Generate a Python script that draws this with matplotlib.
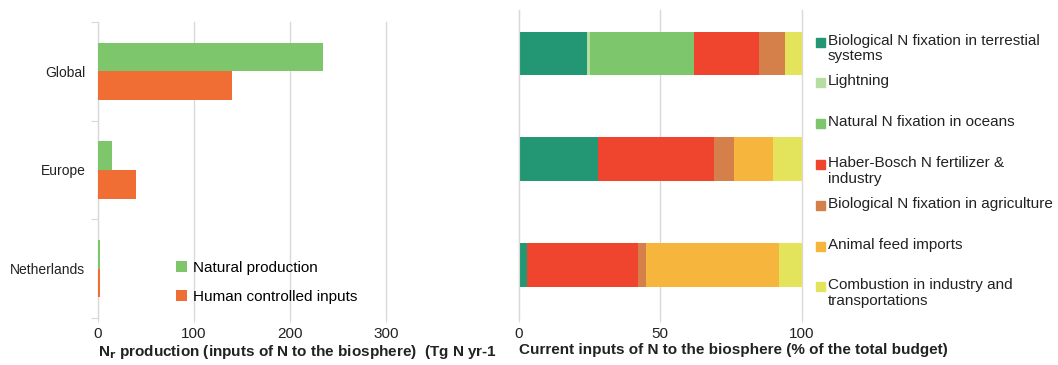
import matplotlib.pyplot as plt
from matplotlib.patches import Rectangle
import numpy as np

plt.rcParams['font.family'] = ['Liberation Sans', 'DejaVu Sans']

regions = ['Global', 'Europe', 'Netherlands']
natural_production = [234, 15, 2]
human_inputs = [140, 40, 2]

sources = ['Biological N fixation in terrestial\nsystems', 'Lightning', 'Natural N fixation in oceans',
           'Haber-Bosch N fertilizer &\nindustry', 'Biological N fixation in agriculture',
           'Animal feed imports', 'Combustion in industry and\ntransportations']
terrestrial = [24, 28, 3]
lightning = [1, 0, 0]
oceans = [37, 0, 0]
haber_bosch = [23, 41, 39]
bio_agriculture = [9, 7, 3]
animal_feed = [0, 14, 47]
combustion = [6, 10, 8]
shares = [terrestrial, lightning, oceans, haber_bosch, bio_agriculture, animal_feed, combustion]
source_colors = ['#239674', '#b5dea0', '#7dc66b', '#ef452f', '#d5804a', '#f6b63e', '#e3e45b']

grid_col = '#d9d9d9'
txt_col = '#222222'

fig = plt.figure(figsize=(10.58, 3.65), dpi=100)
ax1 = fig.add_axes([0.0926, 0.129, 0.2724, 0.811])
ax2 = fig.add_axes([0.4905, 0.129, 0.2672, 0.844])

# left panel: absolute production
y = np.arange(len(regions))
h = 0.29
ax1.barh(y - h / 2, natural_production, height=h, color='#7dc66b', label='Natural production', zorder=3)
ax1.barh(y + h / 2, human_inputs, height=h, color='#f06e34', label='Human controlled inputs', zorder=3)
ax1.set_xlim(0, 300)
ax1.set_ylim(2.5, -0.5)
ax1.set_xticks([0, 100, 200, 300])
ax1.set_yticks([-0.5, 0.5, 1.5, 2.5])
ax1.set_yticklabels([])
ax1.set_yticks(y, minor=True)
ax1.set_yticklabels(regions, minor=True, fontsize=10, color=txt_col)
ax1.tick_params(axis='y', which='major', length=5, color=grid_col)
ax1.tick_params(axis='y', which='minor', length=0, pad=9)
ax1.tick_params(axis='x', length=3, color=grid_col, labelsize=11, labelcolor=txt_col)
ax1.grid(axis='x', color=grid_col, lw=1, clip_on=False)
ax1.set_axisbelow(True)
for s in ['top', 'right', 'bottom']:
    ax1.spines[s].set_visible(False)
ax1.spines['left'].set_color(grid_col)
ax1.set_xlabel(r'N$_\mathbf{r}$ production (inputs of N to the biosphere)  (Tg N yr-1',
               fontsize=11, fontweight='bold', ha='left', color=txt_col)
ax1.xaxis.set_label_coords(0, -0.085)
ax1.legend(loc='lower right', bbox_to_anchor=(0.948, 0.0), frameon=False, fontsize=11,
           handlelength=0.7, handleheight=0.7, handletextpad=0.4, labelspacing=1.0)

# right panel: shares stacked
left = np.zeros(len(regions))
for vals, col in zip(shares, source_colors):
    ax2.barh(y * 1.0, vals, left=left, height=0.41, color=col)
    left += np.array(vals)
ax2.set_xlim(0, 100)
ax2.set_ylim(2.5, -0.41)
ax2.set_xticks([0, 50, 100])
ax2.set_yticks([])
ax2.tick_params(axis='x', length=3, color=grid_col, labelsize=11, labelcolor=txt_col)
ax2.grid(axis='x', color=grid_col, lw=1, clip_on=False)
ax2.set_axisbelow(True)
for s in ['top', 'right', 'bottom']:
    ax2.spines[s].set_visible(False)
ax2.spines['left'].set_color(grid_col)
ax2.set_xlabel('Current inputs of N to the biosphere (% of the total budget)',
               fontsize=11, fontweight='bold', ha='left', color=txt_col)
ax2.xaxis.set_label_coords(0, -0.08)

# legend for right panel, square aligned with first text line
for i, (lab, col) in enumerate(zip(sources, source_colors)):
    ty = 1 - (42 + i * 40.8) / 365
    fig.add_artist(Rectangle((816 / 1058, ty - 4.5 / 365), 9 / 1058, 9 / 365,
                             transform=fig.transFigure, color=col))
    fig.text(828 / 1058, ty + 8.5 / 365, lab, fontsize=11, va='top', ha='left',
             color=txt_col, linespacing=1.15)

fig.savefig('out.png', dpi=100)
